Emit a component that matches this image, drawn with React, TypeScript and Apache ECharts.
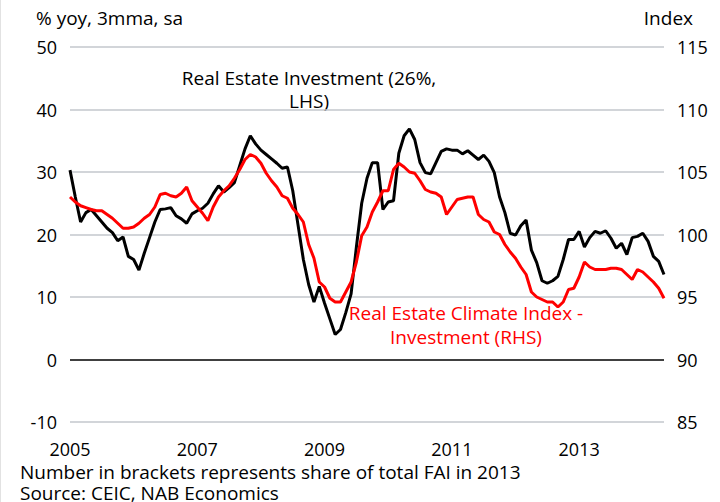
import React, { useEffect, useRef } from "react";
import * as echarts from "echarts";

const startYear = 2005;
const monthCount = 113;
const months: string[] = Array.from({ length: monthCount }, (_, i) => {
  const y = startYear + Math.floor(i / 12);
  const m = (i % 12) + 1;
  return `${y}-${m < 10 ? "0" + m : m}`;
});

const investment: number[] = [
  30.3, 26, 22, 23.5, 24, 23, 22, 21, 20.3, 19, 19.6, 16.5, 16, 14.3, 17, 19.5, 22, 24, 24.1, 24.3,
  23, 22.5, 21.8, 23.3, 23.8, 24.2, 25, 26.5, 27.8, 26.8, 27.5, 28.3, 31, 33.7, 35.8, 34.5, 33.5, 32.8, 32.1, 31.4,
  30.6, 30.8, 27, 21.5, 16, 12, 9.2, 11.7, 9, 6.5, 4, 4.8, 7.5, 10.5, 18, 25, 29, 31.5, 31.5, 24,
  25.2, 25.4, 33, 35.8, 36.9, 35.2, 31.5, 29.9, 29.7, 31.5, 33.3, 33.7, 33.5, 33.5, 32.9, 33.4, 32.7, 32, 32.7, 31.7,
  29.9, 26, 23.5, 20.2, 19.9, 21.4, 22.3, 17.5, 15.5, 12.6, 12.2, 12.6, 13.3, 16, 19.2, 19.2, 20.5, 18, 19.5, 20.5,
  20.2, 20.6, 19.4, 17.8, 18.6, 16.8, 19.5, 19.7, 20.2, 18.9, 16.5, 15.7, 13.6,
];

const climateIndex: number[] = [
  103.0, 102.6, 102.3, 102.15, 102.0, 101.9, 101.9, 101.6, 101.3, 100.9, 100.5, 100.5, 100.6, 100.9, 101.3, 101.6, 102.2, 103.2, 103.3, 103.1,
  103.0, 103.3, 103.8, 102.7, 102.2, 101.7, 101.1, 102.2, 103.0, 103.5, 103.9, 104.5, 105.2, 106.0, 106.4, 106.2, 105.7, 104.9, 104.3, 103.8,
  103.1, 102.9, 102.1, 101.6, 101.0, 99.2, 98.1, 96.2, 95.8, 94.9, 94.6, 94.6, 95.4, 96.2, 97.8, 99.9, 100.6, 101.8, 102.6, 103.5,
  103.5, 105.2, 105.7, 105.4, 105.0, 104.9, 104.3, 103.6, 103.4, 103.3, 103.0, 101.6, 102.2, 102.8, 102.9, 103.0, 103.0, 101.6, 101.2, 101.0,
  100.2, 100.0, 99.2, 98.6, 98.1, 97.4, 96.8, 95.4, 95.0, 94.8, 94.6, 94.6, 94.2, 94.6, 95.6, 95.7, 96.6, 97.8, 97.4, 97.2,
  97.2, 97.2, 97.3, 97.3, 97.2, 96.8, 96.4, 97.2, 97.0, 96.6, 96.2, 95.7, 94.9,
];

const FONT = "'Open Sans', sans-serif";
const GRID = "#c3c7cc";

export default function App() {
  const ref = useRef<HTMLDivElement>(null);
  useEffect(() => {
    if (!ref.current) return;
    const chart = echarts.init(ref.current, undefined, { renderer: "svg" });
    const txt = (x: number, y: number, text: string, fill: string, align = "left") => ({
      type: "text",
      x,
      y,
      style: {
        text,
        fill,
        font: `19px ${FONT}`,
        lineHeight: 20,
        textAlign: align,
        textVerticalAlign: "middle",
      },
    });
    chart.setOption({
      animation: false,
      backgroundColor: "#fff",
      grid: { left: 70, right: 56, top: 47, bottom: 80, containLabel: false },
      xAxis: {
        type: "category",
        data: months,
        boundaryGap: false,
        axisLine: { show: false },
        axisTick: { show: false },
        splitLine: { show: false },
        axisLabel: {
          interval: 23,
          margin: 18,
          color: "#000",
          fontSize: 18,
          fontFamily: FONT,
          formatter: (v: string) => v.slice(0, 4),
        },
      },
      yAxis: [
        {
          type: "value",
          min: -10,
          max: 50,
          interval: 10,
          position: "left",
          axisLine: { show: false },
          axisTick: { show: false },
          axisLabel: { color: "#000", fontSize: 18, fontFamily: FONT, margin: 13 },
          splitLine: {
            lineStyle: { color: [GRID, "#000", GRID, GRID, GRID, GRID, GRID], width: 1.5 },
          },
        },
        {
          type: "value",
          min: 85,
          max: 115,
          interval: 5,
          position: "right",
          axisLine: { show: false },
          axisTick: { show: false },
          axisLabel: { color: "#000", fontSize: 18, fontFamily: FONT, margin: 13 },
          splitLine: { show: false },
        },
      ],
      series: [
        {
          name: "Real Estate Investment",
          type: "line",
          data: investment,
          yAxisIndex: 0,
          showSymbol: false,
          lineStyle: { color: "#000", width: 3 },
          z: 3,
        },
        {
          name: "Real Estate Climate Index - Investment",
          type: "line",
          data: climateIndex,
          yAxisIndex: 1,
          showSymbol: false,
          lineStyle: { color: "#ff0000", width: 3 },
          z: 4,
        },
      ],
      graphic: [
        { type: "rect", shape: { x: 0, y: 0, width: 1, height: 502 }, style: { fill: "#e2e2e2" } },
        txt(36, 18, "% yoy, 3mma, sa", "#000"),
        txt(693, 18, "Index", "#000", "right"),
        txt(309, 78, "Real Estate Investment (26%,", "#000", "center"),
        txt(309, 101, "LHS)", "#000", "center"),
        txt(466, 313, "Real Estate Climate Index -", "#ff0000", "center"),
        txt(466, 337, "Investment (RHS)", "#ff0000", "center"),
        txt(20, 472, "Number in brackets represents share of total FAI in 2013", "#000"),
        txt(20, 493, "Source: CEIC, NAB Economics", "#000"),
      ],
    });
    return () => chart.dispose();
  }, []);
  return (
    <div
      ref={ref}
      style={{ position: "fixed", left: 0, top: 0, width: 720, height: 502, background: "#fff" }}
    />
  );
}
